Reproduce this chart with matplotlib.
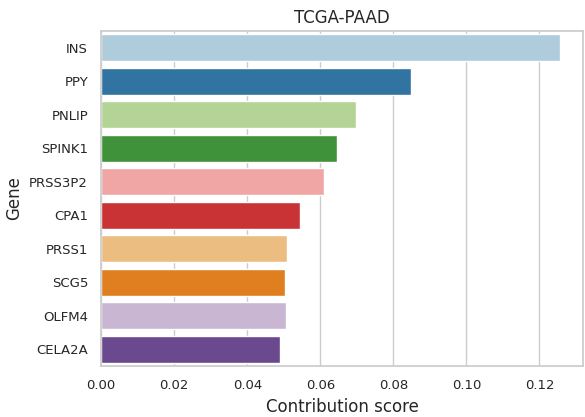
import matplotlib
matplotlib.use("Agg")
import matplotlib.pyplot as plt
import seaborn as sns
import pandas as pd

# 遺伝子ごとの寄与スコア
genes = ["INS", "PPY", "PNLIP", "SPINK1", "PRSS3P2", "CPA1", "PRSS1", "SCG5", "OLFM4", "CELA2A"]
scores = [0.1256, 0.0849, 0.0698, 0.0646, 0.0611, 0.0545, 0.0510, 0.0503, 0.0505, 0.0490]

df = pd.DataFrame({"Gene": genes, "Contribution score": scores})

sns.set_theme(style="whitegrid")
plt.rcParams['font.family'] = ['DejaVu Sans']

fig = plt.figure(figsize=(5.85, 4.17), dpi=100)
ax = fig.add_axes([0.173, 0.122, 0.824, 0.804])
sns.barplot(data=df, x="Contribution score", y="Gene", hue="Gene",
            palette="Paired", legend=False, ax=ax)
ax.set_xlim(0, 0.132)
ax.set_title("TCGA-PAAD", fontsize=12)
ax.set_xlabel("Contribution score", fontsize=12)
ax.set_ylabel("Gene", fontsize=12)
ax.tick_params(axis="both", labelsize=9.5)
fig.savefig("out.png", dpi=100)
